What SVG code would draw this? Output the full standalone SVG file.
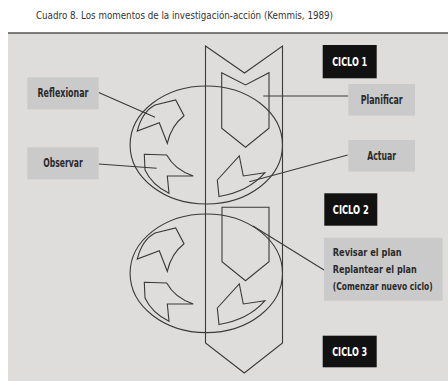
<svg xmlns="http://www.w3.org/2000/svg" width="448" height="381" viewBox="0 0 448 381">
<style>
.ln{fill:none;stroke:#3a3a3a;stroke-width:1.1;stroke-linejoin:miter}
.sh{fill:none;stroke:#3a3a3a;stroke-width:1.1}
.box{fill:#cacaca}
.blk{fill:#111}
.lbl{font-family:"Liberation Sans Narrow","DejaVu Sans Condensed",sans-serif;font-weight:bold;font-size:12px;fill:#2a2a2a}
.rev{font-family:"Liberation Sans Narrow","DejaVu Sans Condensed",sans-serif;font-weight:bold;font-size:11px;fill:#2a2a2a}
.cyc{font-family:"Liberation Sans Narrow","DejaVu Sans Condensed",sans-serif;font-weight:bold;font-size:12.5px;fill:#fff}
.ttl{font-family:"Liberation Sans Narrow","DejaVu Sans Condensed",sans-serif;font-size:11px;fill:#333}
</style>
<defs>
<g id="arrows">
<path class="sh" d="M137.3,131 Q142,112 155,105 L175.7,100 L184,115.7 Q171,126 167.3,143.3 L159.3,122.7 Z"/>
<path class="sh" d="M144.3,154.3 L166.7,155 Q175,170 193.3,176 L167.3,176 L169,193.3 Q152,185 145,170 Z"/>
<path class="sh" d="M217.3,180 L239.3,156 L243.3,176 L265,172.7 Q248,192 219,196.5 Z"/>
</g>
</defs>
<rect x="0" y="0" width="448" height="381" fill="#fff"/>
<text class="ttl" x="36" y="19" textLength="297" lengthAdjust="spacingAndGlyphs">Cuadro 8. Los momentos de la investigación-acción (Kemmis, 1989)</text>
<rect x="8" y="33" width="440" height="348" fill="#dedddb"/>
<line x1="8" y1="33" x2="448" y2="33" stroke="#555" stroke-width="1.6"/>

<g id="big-arrow">
<path class="ln" d="M205.5,46 L244.5,73 L282.5,46 L282.5,343 L244.3,373 L205.5,343 Z"/>
</g>
<g id="ciclo1-shapes">
<ellipse class="sh" cx="206.3" cy="145" rx="76.2" ry="59"/>
<path class="ln" d="M221.7,72.7 L245.5,85 L269,72.7 L269,128.3 L245.5,147.3 L221.7,128.3 Z"/>
<use href="#arrows"/>
</g>
<g id="ciclo2-shapes">
<ellipse class="sh" cx="206.3" cy="273.3" rx="76.2" ry="59.3"/>
<path class="ln" d="M222,207.3 L269,207.3 L269,261.7 L245.5,280.7 L222,261.7 Z"/>
<use href="#arrows" transform="translate(0,128)"/>
</g>

<g id="connectors">
<line class="sh" x1="98.7" y1="92.5" x2="155" y2="117.3"/>
<line class="sh" x1="98.7" y1="164" x2="156.7" y2="168.3"/>
<line class="sh" x1="348.3" y1="96" x2="263.3" y2="96"/>
<line class="sh" x1="347.7" y1="155" x2="249.3" y2="181.7"/>
<line class="sh" x1="324" y1="270" x2="253" y2="226"/>
</g>

<g id="reflexionar">
<rect class="box" x="27.3" y="77.3" width="71.4" height="32"/>
<text class="lbl" x="63" y="96.6" text-anchor="middle" textLength="51" lengthAdjust="spacingAndGlyphs">Reflexionar</text>
</g>
<g id="observar">
<rect class="box" x="27.3" y="147.3" width="71.4" height="32"/>
<text class="lbl" x="63" y="166.8" text-anchor="middle" textLength="39.5" lengthAdjust="spacingAndGlyphs">Observar</text>
</g>
<g id="planificar">
<rect class="box" x="348.3" y="84" width="66.7" height="31.7"/>
<text class="lbl" x="381.7" y="103.6" text-anchor="middle" textLength="42" lengthAdjust="spacingAndGlyphs">Planificar</text>
</g>
<g id="actuar">
<rect class="box" x="348.3" y="140" width="66.7" height="31.7"/>
<text class="lbl" x="381.7" y="159.6" text-anchor="middle" textLength="29" lengthAdjust="spacingAndGlyphs">Actuar</text>
</g>
<g id="ciclo1">
<rect class="blk" x="322.7" y="45" width="54" height="33.3"/>
<text class="cyc" x="349.7" y="66" text-anchor="middle" textLength="35" lengthAdjust="spacingAndGlyphs">CICLO 1</text>
</g>
<g id="ciclo2">
<rect class="blk" x="324.3" y="193.3" width="53" height="32.4"/>
<text class="cyc" x="350.8" y="214" text-anchor="middle" textLength="36" lengthAdjust="spacingAndGlyphs">CICLO 2</text>
</g>
<g id="ciclo3">
<rect class="blk" x="322.7" y="335.7" width="54" height="31.6"/>
<text class="cyc" x="349.7" y="356" text-anchor="middle" textLength="35" lengthAdjust="spacingAndGlyphs">CICLO 3</text>
</g>
<g id="revisar">
<rect class="box" x="324" y="237.7" width="118.7" height="63"/>
<text class="rev" x="332.7" y="255.7" textLength="69" lengthAdjust="spacingAndGlyphs">Revisar el plan</text>
<text class="rev" x="332.7" y="273" textLength="84" lengthAdjust="spacingAndGlyphs">Replantear el plan</text>
<text class="rev" x="332.7" y="290.3" textLength="100" lengthAdjust="spacingAndGlyphs">(Comenzar nuevo ciclo)</text>
</g>
</svg>
